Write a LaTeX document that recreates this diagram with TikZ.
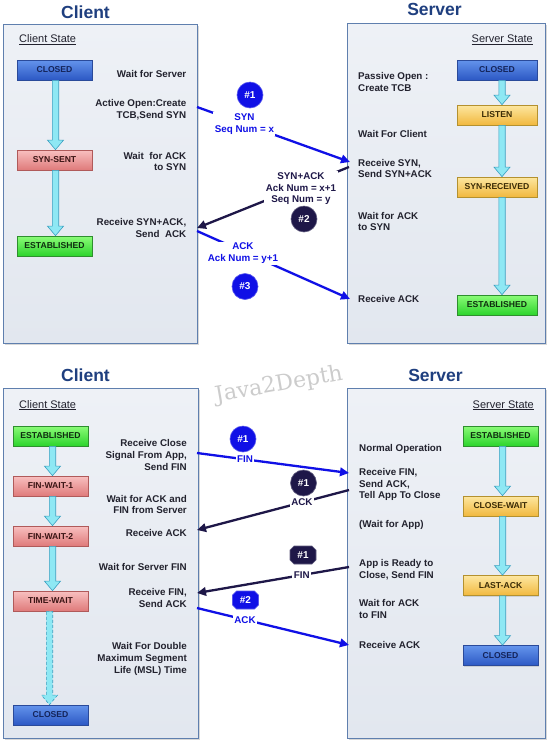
\documentclass[tikz,border=0pt]{standalone}
\usepackage{fontspec}
\setmainfont{Liberation Sans}
\newfontfamily\markfont{DejaVu Serif}
\usetikzlibrary{calc,arrows.meta,shadows,shapes.misc}

\definecolor{titleblue}{HTML}{1F3F7F}
\definecolor{panelA}{HTML}{EEF1F6}
\definecolor{panelB}{HTML}{E2E7EF}
\definecolor{panelline}{HTML}{5F7FAE}
\definecolor{ink}{HTML}{22222E}
\definecolor{msgblue}{HTML}{1010E6}
\definecolor{msgdark}{HTML}{1E1748}
\definecolor{cyanfill}{HTML}{8EE8F4}
\definecolor{cyanline}{HTML}{3A9FC0}
\definecolor{blueA}{HTML}{6494EC}
\definecolor{blueB}{HTML}{2C58C4}
\definecolor{blueD}{HTML}{2A4A9A}
\definecolor{blueT}{HTML}{14245A}
\definecolor{redA}{HTML}{F8C0C0}
\definecolor{redB}{HTML}{DF7A7A}
\definecolor{redD}{HTML}{B05A5A}
\definecolor{redT}{HTML}{3A1414}
\definecolor{greenA}{HTML}{8CFC78}
\definecolor{greenB}{HTML}{2CD42C}
\definecolor{greenD}{HTML}{2E8F2E}
\definecolor{greenT}{HTML}{0F2E0F}
\definecolor{yelA}{HTML}{FDE7A0}
\definecolor{yelB}{HTML}{F1B83E}
\definecolor{yelD}{HTML}{B4912F}
\definecolor{yelT}{HTML}{3B2C06}

% vertical state-transition arrow between two state boxes
\newcommand\statearrow[4]{%
  \filldraw[flowarrow,#1] let \p1=(#3.south), \p2=(#4.north) in
    (\x1+#2-3.2pt,\y1) -- (\x1+#2+3.2pt,\y1) -- (\x1+#2+3.2pt,\y2+9.5pt)
    -- (\x1+#2+8pt,\y2+9.5pt) -- (\x1+#2,\y2) -- (\x1+#2-8pt,\y2+9.5pt)
    -- (\x1+#2-3.2pt,\y2+9.5pt) -- cycle;}

\begin{document}
\begin{tikzpicture}[x=1pt,y=-1pt,
  panel/.style={rectangle, anchor=north west, inner sep=0pt, draw=panelline,
    line width=1pt, top color=panelA, bottom color=panelB,
    drop shadow={shadow xshift=1.8pt, shadow yshift=-1.8pt, opacity=0.3}},
  title/.style={font=\fontsize{17.5}{20}\selectfont\bfseries, text=titleblue, inner sep=0pt},
  hdr/.style={font=\fontsize{11}{13}\selectfont, text=ink, inner sep=0pt},
  lbl/.style={font=\fontsize{9.8}{11.7}\selectfont\bfseries, text=ink, inner sep=0pt},
  lblc/.style={lbl, anchor=east, align=right},
  lbls/.style={lbl, anchor=west, align=left},
  stbox/.style={rectangle, minimum width=75pt, minimum height=20pt, inner sep=0pt,
    line width=0.7pt, font=\fontsize{8.6}{10}\selectfont\bfseries,
    drop shadow={shadow xshift=1pt, shadow yshift=-1pt, opacity=0.25}},
  bluebox/.style={stbox, top color=blueA, bottom color=blueB, draw=blueD, text=blueT},
  redbox/.style={stbox, top color=redA, bottom color=redB, draw=redD, text=redT},
  greenbox/.style={stbox, top color=greenA, bottom color=greenB, draw=greenD, text=greenT},
  yelbox/.style={stbox, top color=yelA, bottom color=yelB, draw=yelD, text=yelT},
  flowarrow/.style={fill=cyanfill, draw=cyanline, line width=0.6pt},
  msgb/.style={draw=msgblue, line width=2.3pt, -{Triangle[length=9pt,width=8.5pt]}},
  msgd/.style={draw=msgdark, line width=2.3pt, -{Triangle[length=9pt,width=8.5pt]}},
  msglbl/.style={fill=white, inner sep=1.5pt, align=center,
    font=\fontsize{9.8}{11.7}\selectfont\bfseries},
  numc/.style={circle, minimum size=26pt, inner sep=0pt, text=white,
    font=\fontsize{10}{12}\selectfont\bfseries},
  octo/.style={chamfered rectangle, chamfered rectangle xsep=2pt,
    chamfered rectangle ysep=2pt, minimum width=26pt, minimum height=18pt,
    inner sep=0pt, text=white, font=\fontsize{10}{12}\selectfont\bfseries}]

\useasboundingbox[fill=white] (0,0) rectangle (547,740);

% ---------- connection set-up ----------
\node[panel, minimum width=194pt, minimum height=319pt] (cliA) at (3,24) {};
\node[panel, minimum width=198pt, minimum height=320pt] (srvA) at (347,23) {};
\node[title] (tcA) at (85.5,12) {Client};
\node[title] (tsA) at (434.5,9.5) {Server};
\node[hdr, anchor=base west] (chA) at (19,42.5) {\underline{Client State}};
\node[hdr, anchor=base east] (shA) at (533,42.5) {\underline{Server State}};

\node[bluebox] (cC0) at (54.5,70) {CLOSED};
\node[redbox] (cS1) at (54.5,160) {SYN-SENT};
\node[greenbox] (cE) at (54.5,246) {ESTABLISHED};

\node[bluebox, minimum width=80pt] (sC0) at (497,70) {CLOSED};
\node[yelbox, minimum width=80pt] (sL) at (497,115) {LISTEN};
\node[yelbox, minimum width=80pt] (sR) at (497,187) {SYN-RECEIVED};
\node[greenbox, minimum width=80pt] (sE) at (497,305) {ESTABLISHED};

\statearrow{}{1pt}{cC0}{cS1}
\statearrow{}{1pt}{cS1}{cE}
\statearrow{}{5pt}{sC0}{sL}
\statearrow{}{5pt}{sL}{sR}
\statearrow{}{5pt}{sR}{sE}

\node[lblc] (lc1) at (186.5,74) {Wait for Server};
\node[lblc] (lc2) at (186.5,109.5) {Active Open:Create\\TCB,Send SYN};
\node[lblc] (lc3) at (186.5,161.5) {Wait\ \ for ACK\\to SYN};
\node[lblc] (lc4) at (186.5,228) {Receive SYN+ACK,\\Send\ \ ACK};

\node[lbls] (ls1) at (358,82) {Passive Open :\\Create TCB};
\node[lbls] (ls2) at (358,133.5) {Wait For Client};
\node[lbls] (ls3) at (358,168.5) {Receive SYN,\\Send SYN+ACK};
\node[lbls] (ls4) at (358,221.5) {Wait for ACK\\to SYN};
\node[lbls] (ls5) at (358,299) {Receive ACK};

\coordinate (m1a) at (197,107);
\coordinate (m1b) at (350,162);
\coordinate (m2a) at (349,167);
\coordinate (m2b) at (197,228);
\coordinate (m3a) at (197,231);
\coordinate (m3b) at (350,299);

\draw[msgb] (m1a) -- node[pos=0.31, msglbl, text=msgblue] (m1t) {SYN\\Seq Num = x} (m1b);
\draw[msgd] (m2a) -- node[pos=0.316, yshift=-2.5pt, msglbl, text=msgdark] (m2t) {SYN+ACK\\Ack Num = x+1\\Seq Num = y} (m2b);
\draw[msgb] (m3a) -- node[pos=0.30, yshift=-2pt, msglbl, text=msgblue] (m3t) {ACK\\Ack Num = y+1} (m3b);

\node[numc, fill=msgblue, draw=msgblue!70!white, line width=0.6pt] (n1) at (250,95) {\#1};
\node[numc, fill=msgdark, draw=msgdark!70!white, line width=0.6pt] (n2) at (304,219) {\#2};
\node[numc, fill=msgblue, draw=msgblue!70!white, line width=0.6pt] (n3) at (245,286.5) {\#3};

% ---------- connection tear-down ----------
\node[panel, minimum width=195pt, minimum height=350pt] (cliB) at (3,388) {};
\node[panel, minimum width=198pt, minimum height=350pt] (srvB) at (347,388) {};
\node[title] (tcB) at (85.5,375.5) {Client};
\node[title] (tsB) at (435.5,375) {Server};
\node[rotate=10, inner sep=0pt, text=black!20, font=\markfont\fontsize{22}{24}\selectfont] (wm) at (279,385) {Java2Depth};
\node[hdr, anchor=base west] (chB) at (19,408) {\underline{Client State}};
\node[hdr, anchor=base east] (shB) at (534,408) {\underline{Server State}};

\node[greenbox] (dE) at (50.5,436) {ESTABLISHED};
\node[redbox] (dF1) at (50.5,486) {FIN-WAIT-1};
\node[redbox] (dF2) at (50.5,536) {FIN-WAIT-2};
\node[redbox] (dT) at (50.5,601) {TIME-WAIT};
\node[bluebox] (dC) at (50.5,715) {CLOSED};

\node[greenbox] (eE) at (500.5,436) {ESTABLISHED};
\node[yelbox] (eW) at (500.5,506) {CLOSE-WAIT};
\node[yelbox] (eL) at (500.5,585.5) {LAST-ACK};
\node[bluebox] (eC) at (500.5,655.5) {CLOSED};

\statearrow{}{2pt}{dE}{dF1}
\statearrow{}{2pt}{dF1}{dF2}
\statearrow{}{2pt}{dF2}{dT}
\statearrow{dashed, dash pattern=on 3pt off 2pt}{-1pt}{dT}{dC}
\statearrow{}{2pt}{eE}{eW}
\statearrow{}{2pt}{eW}{eL}
\statearrow{}{2pt}{eL}{eC}

\node[lblc] (lc5) at (187,455) {Receive Close\\Signal From App,\\Send FIN};
\node[lblc] (lc6) at (187,504.5) {Wait for ACK and\\FIN from Server};
\node[lblc] (lc7) at (187,533) {Receive ACK};
\node[lblc] (lc8) at (187,567) {Wait for Server FIN};
\node[lblc] (lc9) at (187,598) {Receive FIN,\\Send ACK};
\node[lblc] (lc10) at (187,659) {Wait For Double\\Maximum Segment\\Life (MSL) Time};

\node[lbls] (ls6) at (359,449) {Normal Operation};
\node[lbls] (ls7) at (359,484.5) {Receive FIN,\\Send ACK,\\Tell App To Close};
\node[lbls] (ls8) at (359,525) {(Wait for App)};
\node[lbls] (ls9) at (359,569.5) {App is Ready to\\Close, Send FIN};
\node[lbls] (ls10) at (359,609) {Wait for ACK\\to FIN};
\node[lbls] (ls11) at (359,645) {Receive ACK};

\coordinate (f1a) at (197,453);
\coordinate (f1b) at (349,473);
\coordinate (f2a) at (349,490);
\coordinate (f2b) at (197,530);
\coordinate (f3a) at (349,567);
\coordinate (f3b) at (197,593);
\coordinate (f4a) at (197,608);
\coordinate (f4b) at (349,645);

\draw[msgb] (f1a) -- node[pos=0.316, msglbl, text=msgblue] (f1t) {FIN} (f1b);
\draw[msgd] (f2a) -- node[pos=0.31, msglbl, text=msgdark] (f2t) {ACK} (f2b);
\draw[msgd] (f3a) -- node[pos=0.31, msglbl, text=msgdark] (f3t) {FIN} (f3b);
\draw[msgb] (f4a) -- node[pos=0.316, msglbl, text=msgblue] (f4t) {ACK} (f4b);

\node[numc, fill=msgblue, draw=msgblue!70!white, line width=0.6pt] (k1) at (243,439) {\#1};
\node[numc, fill=msgdark, draw=msgdark!70!white, line width=0.6pt] (k2) at (303.5,483) {\#1};
\node[octo, fill=msgdark, draw=msgdark!70!white, line width=0.6pt] (k3) at (303,555) {\#1};
\node[octo, fill=msgblue, draw=msgblue!70!white, line width=0.6pt] (k4) at (245.5,600) {\#2};

\end{tikzpicture}
\end{document}
